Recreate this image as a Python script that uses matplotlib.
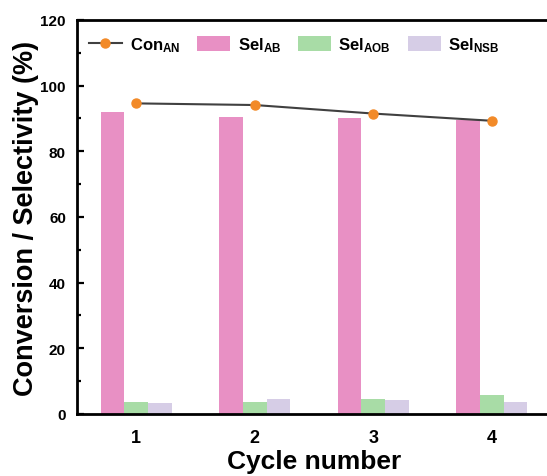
import matplotlib
matplotlib.use("Agg")
import matplotlib.pyplot as plt
import numpy as np
from matplotlib.ticker import MultipleLocator

plt.rcParams['font.family'] = ['Liberation Sans', 'DejaVu Sans']
plt.rcParams['font.weight'] = 'bold'
plt.rcParams['mathtext.fontset'] = 'custom'
plt.rcParams['mathtext.rm'] = 'Liberation Sans:bold'
plt.rcParams['mathtext.bf'] = 'Liberation Sans:bold'
plt.rcParams['mathtext.default'] = 'bf'

cycles = [1, 2, 3, 4]
con_an = [94.6, 94.1, 91.5, 89.3]
sel_ab = [91.9, 90.6, 90.1, 89.5]
sel_aob = [3.8, 3.6, 4.7, 5.7]
sel_nsb = [3.3, 4.7, 4.4, 3.7]

c_ab = '#E890C4'
c_aob = '#A8DCA6'
c_nsb = '#D6CDE6'
c_line = '#404040'
c_marker = '#F28A28'

fig = plt.figure(figsize=(5.47, 4.77), dpi=100)
ax = fig.add_axes([0.1408, 0.130, 0.8665, 0.826])

x = np.array(cycles, dtype=float)
w = 0.2
b_ab = ax.bar(x - w, sel_ab, width=w, color=c_ab, zorder=2)
b_aob = ax.bar(x, sel_aob, width=w, color=c_aob, zorder=2)
b_nsb = ax.bar(x + w, sel_nsb, width=w, color=c_nsb, zorder=2)
line, = ax.plot(x, con_an, color=c_line, lw=1.5, marker='o', ms=6.5,
                mfc=c_marker, mec=c_marker, zorder=3)

ax.set_xlim(0.5, 4.5)
ax.set_ylim(0, 120)
ax.set_xticks(cycles)
ax.set_xticklabels([str(c) for c in cycles])
ax.yaxis.set_major_locator(MultipleLocator(20))
ax.yaxis.set_minor_locator(MultipleLocator(10))
ax.tick_params(axis='y', which='both', direction='in', labelsize=11, width=1.6, pad=8)
ax.tick_params(axis='y', which='major', length=5)
ax.tick_params(axis='y', which='minor', length=3)
ax.tick_params(axis='x', length=0, labelsize=13, pad=11)
for s in ['left', 'top', 'bottom']:
    ax.spines[s].set_linewidth(2.0)
ax.spines['right'].set_visible(False)

ax.set_ylabel('Conversion / Selectivity (%)', fontsize=19.5, fontweight='bold', labelpad=1)
ax.set_xlabel('Cycle number', fontsize=19, fontweight='bold', labelpad=2)

ax.legend([line, b_ab, b_aob, b_nsb],
          [r'Con$_{AN}$', r'Sel$_{AB}$', r'Sel$_{AOB}$', r'Sel$_{NSB}$'],
          loc='upper left', bbox_to_anchor=(0.0, 0.99), ncol=4, frameon=False,
          fontsize=12, handlelength=2.0, handleheight=1.0, handletextpad=0.45,
          columnspacing=1.0, borderaxespad=0.3)

fig.savefig('out.png', dpi=100)
